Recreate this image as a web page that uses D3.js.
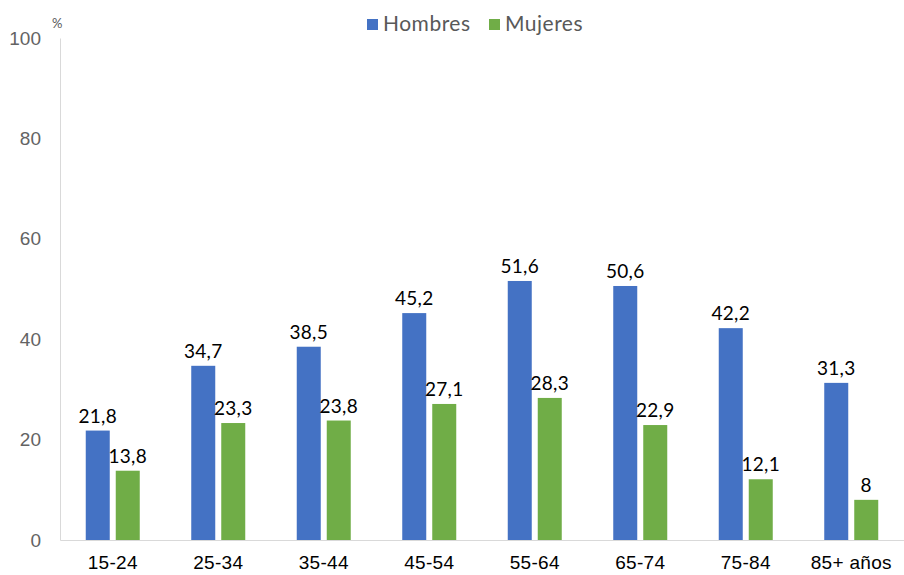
<!DOCTYPE html>
<html>
<head>
<meta charset="utf-8">
<script src="https://cdn.jsdelivr.net/npm/d3@7"></script>
<style>
  body { margin: 0; background: #fff; }
  svg { font-family: "Lato", "DejaVu Sans", sans-serif; }
</style>
</head>
<body>
<div id="chart"></div>
<script>
// Data
const categories = ["15-24", "25-34", "35-44", "45-54", "55-64", "65-74", "75-84", "85+ años"];
const hombres = [21.8, 34.7, 38.5, 45.2, 51.6, 50.6, 42.2, 31.3];
const mujeres = [13.8, 23.3, 23.8, 27.1, 28.3, 22.9, 12.1, 8];
const seriesNames = ["Hombres", "Mujeres"];
const colors = ["#4472C4", "#70AD47"];
const yTicks = [0, 20, 40, 60, 80, 100];

const margin = {top: 38, right: 0, bottom: 35, left: 60},
      width = 904 - margin.left - margin.right,
      height = 575 - margin.top - margin.bottom;

const svg = d3.select("#chart")
  .append("svg")
    .attr("width", width + margin.left + margin.right)
    .attr("height", height + margin.top + margin.bottom)
  .append("g")
    .attr("transform", `translate(${margin.left},${margin.top})`);

const rows = categories.map((c, i) => ({cat: c, values: [hombres[i], mujeres[i]]}));

// Scales
const x = d3.scaleBand()
  .domain(categories)
  .range([0, width]);

const y = d3.scaleLinear()
  .domain([0, 100])
  .range([height, 0]);

const barW = 24, gap = 6;
const xs = d3.scaleBand()
  .domain(seriesNames)
  .range([x.bandwidth() / 2 - barW - gap / 2, x.bandwidth() / 2 + barW + gap / 2])
  .paddingInner(gap / (barW + gap));

// Y axis
const yAxis = svg.append("g")
  .call(d3.axisLeft(y).tickValues(yTicks).tickSize(0).tickPadding(19));
yAxis.select(".domain").attr("stroke", "#d9d9d9");
yAxis.selectAll("text")
  .attr("fill", "#636363")
  .style("font-size", "19px");

// X axis
const xAxis = svg.append("g")
  .attr("transform", `translate(0,${height})`)
  .call(d3.axisBottom(x).tickSize(0).tickPadding(16));
xAxis.select(".domain").attr("stroke", "#d9d9d9");
xAxis.selectAll("text")
  .attr("fill", "#000")
  .style("font-size", "19px")
  .style("letter-spacing", "0.3px");

// Bars
const groups = svg.selectAll(".grp")
  .data(rows)
  .enter()
  .append("g")
    .attr("class", "grp")
    .attr("transform", d => `translate(${x(d.cat)},0)`);

groups.selectAll("rect")
  .data(d => d.values.map((v, i) => ({name: seriesNames[i], v: v, i: i})))
  .enter()
  .append("rect")
    .attr("x", d => xs(d.name))
    .attr("y", d => y(d.v))
    .attr("width", xs.bandwidth())
    .attr("height", d => height - y(d.v))
    .attr("fill", d => colors[d.i]);

// Data labels
groups.selectAll("text.lbl")
  .data(d => d.values.map((v, i) => ({name: seriesNames[i], v: v, i: i})))
  .enter()
  .append("text")
    .attr("class", "lbl")
    .attr("x", d => xs(d.name) + xs.bandwidth() / 2)
    .attr("y", d => y(d.v) - 8)
    .attr("text-anchor", "middle")
    .style("font-size", "19px")
    .style("letter-spacing", "0.3px")
    .attr("fill", "#000")
    .text(d => String(d.v).replace(".", ","));

// "%" unit label
svg.append("text")
  .attr("x", -8)
  .attr("y", -10)
  .attr("fill", "#595959")
  .style("font-size", "13px")
  .text("%");

// Legend
const legend = svg.append("g")
  .attr("transform", `translate(${367 - margin.left},${31 - margin.top})`);
const legItems = [{name: seriesNames[0], dx: 0}, {name: seriesNames[1], dx: 122}];
legItems.forEach((d, i) => {
  const g = legend.append("g").attr("transform", `translate(${d.dx},0)`);
  g.append("rect")
    .attr("x", 0).attr("y", -12)
    .attr("width", 11).attr("height", 11)
    .attr("fill", colors[i]);
  g.append("text")
    .attr("x", 16).attr("y", 0)
    .attr("fill", "#595959")
    .style("font-size", "21px")
    .style("letter-spacing", "0.5px")
    .text(d.name);
});
</script>
</body>
</html>
